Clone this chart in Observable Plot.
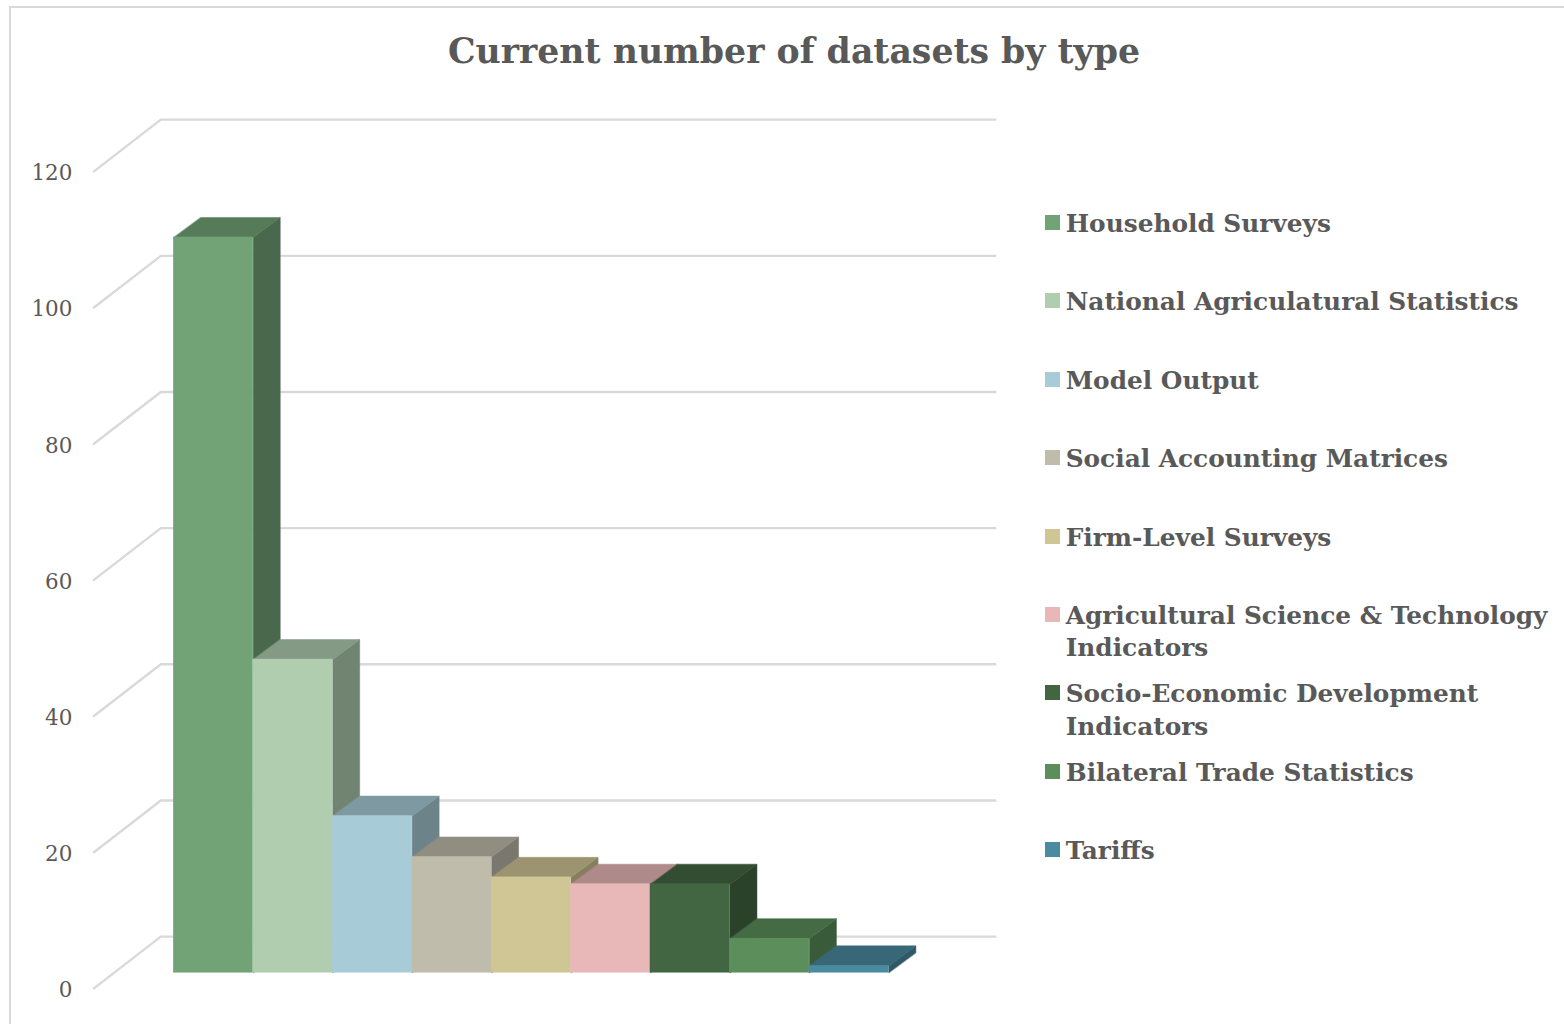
<!DOCTYPE html>
<html>
<head>
<meta charset="utf-8">
<script src="https://cdn.jsdelivr.net/npm/d3@7"></script>
<script src="https://cdn.jsdelivr.net/npm/@observablehq/plot@0.6"></script>
<style>
  html, body { margin: 0; padding: 0; background: #fff; overflow: hidden; }
  #frame { position: relative; width: 1555px; height: 1018px; margin: 6px 0 0 9px; border-top: 2px solid #d9d9d9; border-left: 2px solid #d9d9d9; box-sizing: border-box; font-family: "DejaVu Serif", serif; color: #595959; }
  #title { height: 92px; box-sizing: border-box; padding-top: 23px; padding-left: 0; width: 1566px; text-align: center; font-size: 34.7px; line-height: 40px; font-weight: bold; }
  #row { display: flex; margin-left: -11px; }
  #legend { list-style: none; margin: 0; padding: 108px 0 0 0; margin-left: 16px; width: 520px; font-weight: bold; font-size: 24.8px; line-height: 32.5px; }
  #legend li { height: 78.4px; position: relative; padding-left: 21px; box-sizing: border-box; }
  #legend i { position: absolute; left: 0; top: 7px; width: 15px; height: 15px; }
  svg { flex: none; }
</style>
</head>
<body>
<div id="frame">
  <div id="title">Current number of datasets by type</div>
  <div id="row">
    <div id="chart"></div>
    <ul id="legend"></ul>
  </div>
</div>
<script>
const categories = ["Household Surveys", "National Agriculatural Statistics", "Model Output", "Social Accounting Matrices", "Firm-Level Surveys", "Agricultural Science & Technology Indicators", "Socio-Economic Development Indicators", "Bilateral Trade Statistics", "Tariffs"];
const counts = [108, 46, 23, 17, 14, 13, 13, 5, 1];
const palette = ["#72a376", "#b0cdb0", "#a8ccd7", "#bfbcac", "#cfc595", "#e8b7b7", "#426642", "#5b8e5b", "#4a8ba0"];
const tickValues = [0, 20, 40, 60, 80, 100, 120];

// Oblique projection of the 3-D look, in units of the x and y scales
const barDepth = {x: 0.34, y: 2.94};
const wallDepth = {x: 0.842, y: 7.6};
const floorLift = 2.3;      // the bars stand this far up the front of the floor
const wallEnd = 10.34;

const bars = categories.map((name, i) => ({
  name, i, value: counts[i], color: palette[i],
  top: d3.rgb(palette[i]).darker(0.8).formatHex(),
  side: d3.rgb(palette[i]).darker(1.25).formatHex()
}));

const gridPts = tickValues.flatMap(v => [
  {v, x: -1.005, y: v},
  {v, x: -1.005 + wallDepth.x, y: v + wallDepth.y},
  {v, x: wallEnd, y: v + wallDepth.y}
]);

function sideFace(d) {
  const x = d.i + 1, y0 = floorLift, y1 = floorLift + d.value;
  return [
    {x, y: y0}, {x, y: y1},
    {x: x + barDepth.x, y: y1 + barDepth.y},
    {x: x + barDepth.x, y: y0 + barDepth.y}
  ];
}
function topFace(d) {
  const x0 = d.i, x1 = d.i + 1, y = floorLift + d.value;
  return [
    {x: x0, y}, {x: x1, y},
    {x: x1 + barDepth.x, y: y + barDepth.y},
    {x: x0 + barDepth.x, y: y + barDepth.y}
  ];
}
const face = (pts, color) => Plot.line(pts, {x: "x", y: "y", fill: color, stroke: color, strokeWidth: 0.5, curve: "linear-closed"});

const plot = Plot.plot({
  width: 1030,
  height: 924,
  marginLeft: 93, marginRight: 0, marginTop: 0, marginBottom: 0,
  x: {type: "linear", domain: [0, 9], range: [173.5, 889.5], axis: null},
  y: {type: "linear", domain: [0, 120], range: [889, 71], axis: null},
  style: {background: "transparent", overflow: "visible"},
  marks: [
    Plot.line(gridPts, {x: "x", y: "y", z: "v", stroke: "#d9d9d9", strokeWidth: 2.4}),
    ...bars.flatMap(d => [
      face(sideFace(d), d.side),
      face(topFace(d), d.top),
      Plot.rect([d], {x1: "i", x2: e => e.i + 1, y1: () => floorLift, y2: e => floorLift + e.value, fill: d.color, stroke: d.color, strokeWidth: 0.5})
    ]),
    Plot.axisY({ticks: tickValues, anchor: "left", tickSize: 0, tickPadding: 21, label: null, fontSize: 21.5, fontFamily: "DejaVu Serif", fill: "#595959", dy: 2, tickFormat: d3.format("d")})
  ]
});
document.getElementById("chart").append(plot);

const legend = document.getElementById("legend");
bars.forEach(d => {
  const li = document.createElement("li");
  const sw = document.createElement("i");
  sw.style.background = d.color;
  li.append(sw, d.name);
  legend.append(li);
});
</script>
</body>
</html>
